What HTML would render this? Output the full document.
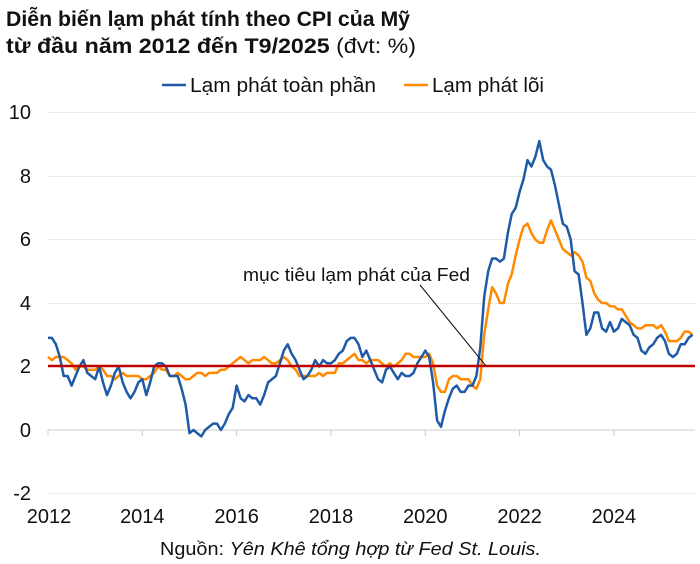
<!DOCTYPE html>
<html><head><meta charset="utf-8"><style>
body{margin:0;background:#fff;}
svg{display:block;font-family:"Liberation Sans",sans-serif;}
</style></head><body>
<svg id="c" width="700" height="564" viewBox="0 0 700 564" xmlns="http://www.w3.org/2000/svg">
<text x="6" y="26" font-size="21" font-weight="bold" fill="#111" textLength="404" lengthAdjust="spacingAndGlyphs">Diễn biến lạm phát tính theo CPI của Mỹ</text>
<text x="6" y="53" font-size="21" fill="#111" textLength="410" lengthAdjust="spacingAndGlyphs"><tspan font-weight="bold">từ đầu năm 2012 đến T9/2025</tspan> (đvt: %)</text>
<line x1="162" y1="85" x2="186" y2="85" stroke="#1f5aa6" stroke-width="2.5"/>
<text x="190" y="92" font-size="20" fill="#111" textLength="186" lengthAdjust="spacingAndGlyphs">Lạm phát toàn phần</text>
<line x1="404" y1="85" x2="428" y2="85" stroke="#ff8a00" stroke-width="2.5"/>
<text x="432" y="92" font-size="20" fill="#111" textLength="112" lengthAdjust="spacingAndGlyphs">Lạm phát lõi</text>
<g stroke="#d8d8d8" stroke-width="1" stroke-dasharray="1,1">
<line x1="48" x2="695" y1="112.5" y2="112.5"/>
<line x1="48" x2="695" y1="176.5" y2="176.5"/>
<line x1="48" x2="695" y1="239.5" y2="239.5"/>
<line x1="48" x2="695" y1="303.5" y2="303.5"/>
<line x1="48" x2="695" y1="493.5" y2="493.5"/>
</g>
<line x1="48" x2="695" y1="430" y2="430" stroke="#ccc" stroke-width="1"/>
<g id="ticks" stroke="#ccc" stroke-width="1"></g>
<g font-size="20" fill="#111" text-anchor="end">
<text x="31" y="119">10</text><text x="31" y="183">8</text><text x="31" y="246">6</text>
<text x="31" y="310">4</text><text x="31" y="373">2</text><text x="31" y="437">0</text><text x="31" y="500">-2</text>
</g>
<g id="xl" font-size="20" fill="#111" text-anchor="middle"></g>
<polyline id="core" fill="none" stroke="#ff8a00" stroke-width="2.5" stroke-linejoin="round"/>
<polyline id="head" fill="none" stroke="#1f5aa6" stroke-width="2.5" stroke-linejoin="round"/>
<line x1="48" x2="695" y1="366" y2="366" stroke="#c00000" stroke-width="2.5"/>
<text x="243" y="281" font-size="18" fill="#111" textLength="227" lengthAdjust="spacingAndGlyphs">mục tiêu lạm phát của Fed</text>
<line x1="420" y1="285" x2="486" y2="366" stroke="#111" stroke-width="1"/>
<text x="160" y="555" font-size="18" fill="#111" textLength="381" lengthAdjust="spacingAndGlyphs">Nguồn: <tspan font-style="italic">Yên Khê tổng hợp từ Fed St. Louis.</tspan></text>
</svg>
<script>
var H=[2.9,2.9,2.7,2.3,1.7,1.7,1.4,1.7,2.0,2.2,1.8,1.7,
1.6,2.0,1.5,1.1,1.4,1.8,2.0,1.5,1.2,1.0,1.2,1.5,
1.6,1.1,1.5,2.0,2.1,2.1,2.0,1.7,1.7,1.7,1.3,0.8,
-0.1,0.0,-0.1,-0.2,0.0,0.1,0.2,0.2,0.0,0.2,0.5,0.7,
1.4,1.0,0.9,1.1,1.0,1.0,0.8,1.1,1.5,1.6,1.7,2.1,
2.5,2.7,2.4,2.2,1.9,1.6,1.7,1.9,2.2,2.0,2.2,2.1,
2.1,2.2,2.4,2.5,2.8,2.9,2.9,2.7,2.3,2.5,2.2,1.9,
1.6,1.5,1.9,2.0,1.8,1.6,1.8,1.7,1.7,1.8,2.1,2.3,
2.5,2.3,1.5,0.3,0.1,0.6,1.0,1.3,1.4,1.2,1.2,1.4,
1.4,1.7,2.6,4.2,5.0,5.4,5.4,5.3,5.4,6.2,6.8,7.0,
7.5,7.9,8.5,8.3,8.6,9.1,8.5,8.3,8.2,7.7,7.1,6.5,
6.4,6.0,5.0,4.9,4.0,3.0,3.2,3.7,3.7,3.2,3.1,3.4,
3.1,3.2,3.5,3.4,3.3,3.0,2.9,2.5,2.4,2.6,2.7,2.9,
3.0,2.8,2.4,2.3,2.4,2.7,2.7,2.9,3.0];
var C=[2.3,2.2,2.3,2.3,2.3,2.2,2.1,1.9,2.0,2.0,1.9,1.9,
1.9,2.0,1.9,1.7,1.7,1.6,1.7,1.8,1.7,1.7,1.7,1.7,
1.6,1.6,1.7,1.8,2.0,1.9,1.9,1.7,1.7,1.8,1.7,1.6,
1.6,1.7,1.8,1.8,1.7,1.8,1.8,1.8,1.9,1.9,2.0,2.1,
2.2,2.3,2.2,2.1,2.2,2.2,2.2,2.3,2.2,2.1,2.1,2.2,
2.3,2.2,2.0,1.9,1.7,1.7,1.7,1.7,1.7,1.8,1.7,1.8,
1.8,1.8,2.1,2.1,2.2,2.3,2.4,2.2,2.2,2.1,2.2,2.2,
2.2,2.1,2.0,2.1,2.0,2.1,2.2,2.4,2.4,2.3,2.3,2.3,
2.3,2.4,2.1,1.4,1.2,1.2,1.6,1.7,1.7,1.6,1.6,1.6,
1.4,1.3,1.6,3.0,3.8,4.5,4.3,4.0,4.0,4.6,4.9,5.5,
6.0,6.4,6.5,6.2,6.0,5.9,5.9,6.3,6.6,6.3,6.0,5.7,
5.6,5.5,5.6,5.5,5.3,4.8,4.7,4.3,4.1,4.0,4.0,3.9,
3.9,3.8,3.8,3.6,3.4,3.3,3.2,3.2,3.3,3.3,3.3,3.2,
3.3,3.1,2.8,2.8,2.8,2.9,3.1,3.1,3.0];
function X(i){return 48+i*3.93;}function Y(v){return 430-v*31.75;}
function pts(a){return a.map(function(v,i){return X(i).toFixed(1)+","+Y(v).toFixed(1)}).join(" ");}
document.getElementById("head").setAttribute("points",pts(H));
document.getElementById("core").setAttribute("points",pts(C));
var ns="http://www.w3.org/2000/svg",t=document.getElementById("ticks"),xl=document.getElementById("xl");
for(var k=0;k<7;k++){var x=X(k*24);
var l=document.createElementNS(ns,"line");l.setAttribute("x1",x);l.setAttribute("x2",x);l.setAttribute("y1",430);l.setAttribute("y2",436);t.appendChild(l);
var tx=document.createElementNS(ns,"text");tx.setAttribute("x",x+(k==0?1:0));tx.setAttribute("y",523);tx.textContent=2012+2*k;xl.appendChild(tx);}
</script>
</body></html>
